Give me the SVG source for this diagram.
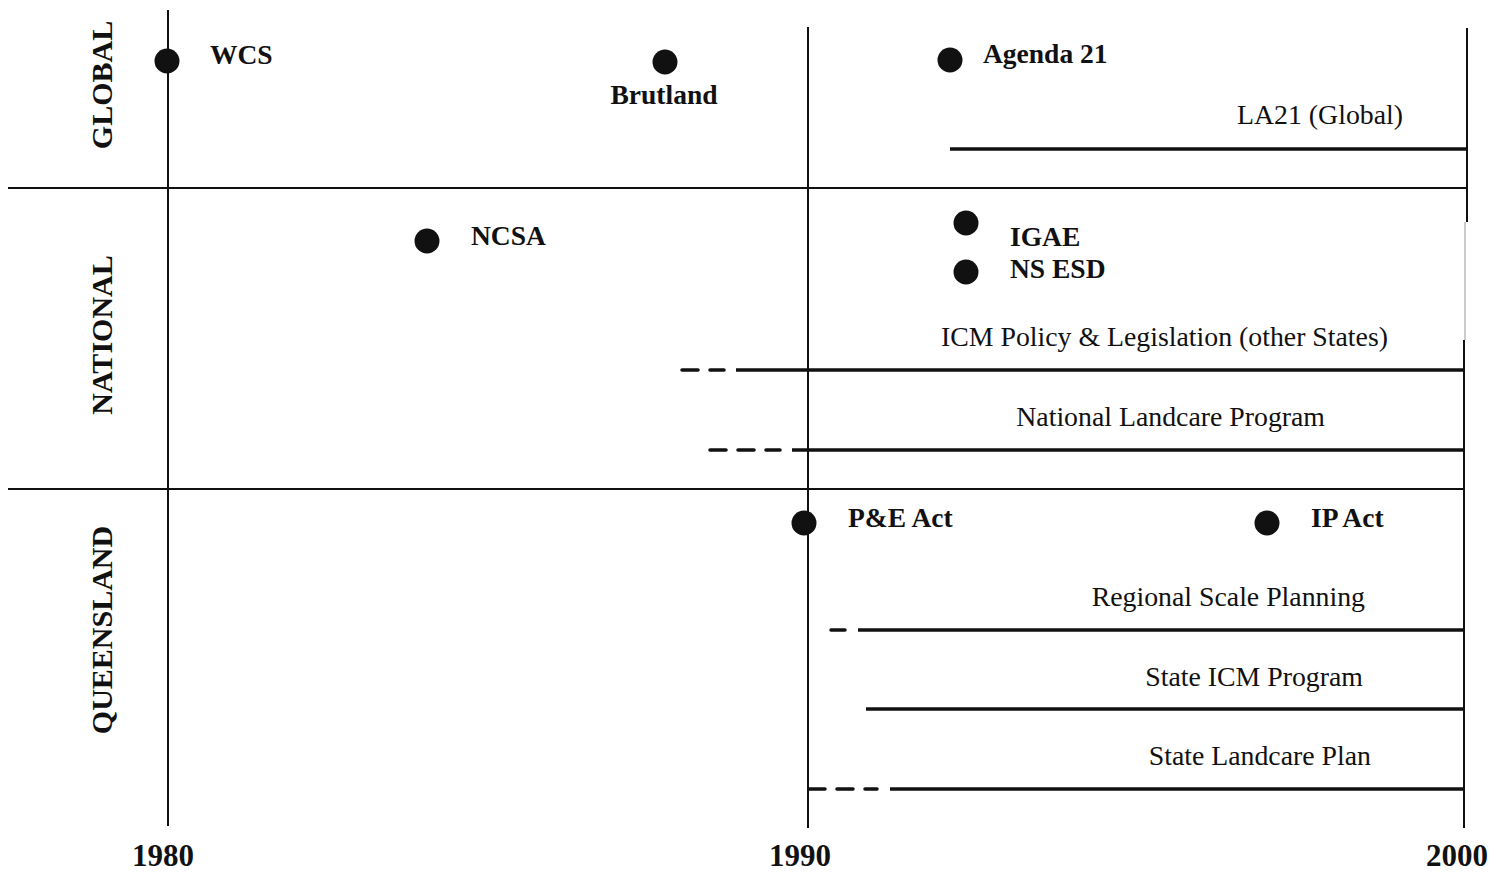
<svg xmlns="http://www.w3.org/2000/svg" width="1505" height="875" viewBox="0 0 1505 875">
  <style>
    .grid { stroke: #111; stroke-width: 2; fill: none; }
    .bar { stroke: #111; stroke-width: 3.5; fill: none; }
    .dash { stroke: #111; stroke-width: 3.5; fill: none; stroke-dasharray: 16 12; stroke-linecap: round; }
    .dot { fill: #111; }
    .ev { font-family: "Liberation Serif", "Times New Roman", serif; font-weight: bold; font-size: 27.5px; fill: #111; }
    .span { font-family: "Liberation Serif", "Times New Roman", serif; font-size: 27.8px; fill: #111; }
    .row { font-family: "Liberation Serif", "Times New Roman", serif; font-weight: bold; font-size: 30px; fill: #111; text-anchor: middle; }
    .yr { font-family: "Liberation Serif", "Times New Roman", serif; font-weight: bold; font-size: 31px; fill: #111; text-anchor: middle; }
  </style>
  <rect width="1505" height="875" fill="#ffffff"/>

  <!-- time axis verticals and band dividers -->
  <g id="grid">
    <line class="grid" x1="168" y1="10" x2="168" y2="826"/>
    <line class="grid" x1="808" y1="27" x2="808" y2="828"/>
    <line class="grid" x1="1467" y1="28" x2="1467" y2="222"/>
    <line x1="1465" y1="222" x2="1465" y2="340" stroke="#bbbbbb" stroke-width="1.5"/>
    <line class="grid" x1="1464" y1="340" x2="1464" y2="828"/>
    <line class="grid" x1="8" y1="188" x2="1467" y2="188"/>
    <line class="grid" x1="8" y1="489" x2="1464" y2="489"/>
  </g>

  <!-- band titles -->
  <g id="bands">
    <text class="row" transform="translate(112,85) rotate(-90)">GLOBAL</text>
    <text class="row" transform="translate(112,335) rotate(-90)">NATIONAL</text>
    <text class="row" transform="translate(112,630) rotate(-90)">QUEENSLAND</text>
  </g>

  <!-- year labels -->
  <g id="years">
    <text class="yr" x="163" y="866">1980</text>
    <text class="yr" x="800" y="866">1990</text>
    <text class="yr" x="1457" y="866">2000</text>
  </g>

  <!-- point events -->
  <g id="wcs"><circle class="dot" cx="167" cy="61" r="12.5"/><text class="ev" x="210" y="64">WCS</text></g>
  <g id="brutland"><circle class="dot" cx="665" cy="62" r="12.5"/><text class="ev" x="664" y="104" text-anchor="middle">Brutland</text></g>
  <g id="agenda21"><circle class="dot" cx="950" cy="60" r="12.5"/><text class="ev" x="983" y="63">Agenda 21</text></g>
  <g id="ncsa"><circle class="dot" cx="427" cy="241" r="12.5"/><text class="ev" x="471" y="245">NCSA</text></g>
  <g id="igae"><circle class="dot" cx="966" cy="223" r="12.5"/><text class="ev" x="1010" y="246">IGAE</text></g>
  <g id="nsesd"><circle class="dot" cx="966" cy="272" r="12.5"/><text class="ev" x="1010" y="278">NS ESD</text></g>
  <g id="pe-act"><circle class="dot" cx="804" cy="523" r="12.5"/><text class="ev" x="848" y="527">P&amp;E Act</text></g>
  <g id="ip-act"><circle class="dot" cx="1267" cy="523" r="12.5"/><text class="ev" x="1311" y="527">IP Act</text></g>

  <!-- ongoing programmes: labels -->
  <g id="spans-labels">
    <text class="span" x="1403" y="124" text-anchor="end">LA21 (Global)</text>
    <text class="span" x="1388" y="346" text-anchor="end">ICM Policy &amp; Legislation (other States)</text>
    <text class="span" x="1325" y="426" text-anchor="end">National Landcare Program</text>
    <text class="span" x="1365" y="606" text-anchor="end">Regional Scale Planning</text>
    <text class="span" x="1363" y="686" text-anchor="end">State ICM Program</text>
    <text class="span" x="1371" y="765" text-anchor="end">State Landcare Plan</text>
  </g>

  <!-- ongoing programmes: duration bars -->
  <g id="connectors">
    <line class="bar" x1="950" y1="149" x2="1467" y2="149"/>

    <line class="dash" x1="682" y1="370" x2="724" y2="370"/>
    <line class="bar" x1="736" y1="370" x2="1464" y2="370"/>

    <line class="dash" x1="710" y1="450" x2="780" y2="450"/>
    <line class="bar" x1="792" y1="450" x2="1464" y2="450"/>

    <line class="dash" x1="831" y1="630" x2="845" y2="630"/>
    <line class="bar" x1="858" y1="630" x2="1464" y2="630"/>

    <line class="bar" x1="866" y1="709" x2="1464" y2="709"/>

    <line class="dash" x1="809" y1="789" x2="877" y2="789"/>
    <line class="bar" x1="890" y1="789" x2="1464" y2="789"/>
  </g>
</svg>
